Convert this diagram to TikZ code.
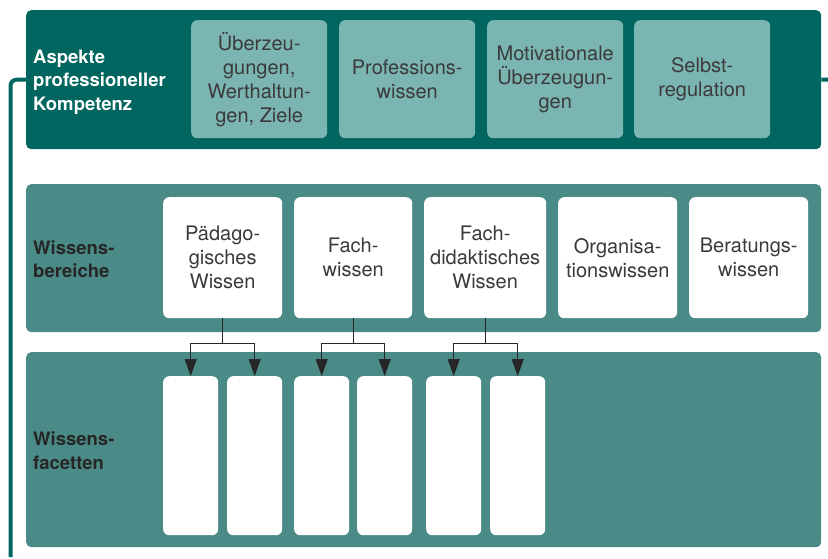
\documentclass[tikz,border=0pt]{standalone}
\usepackage{fontspec}
\setmainfont{TeX Gyre Heros}
\usepackage{xcolor}
\usepackage{tikz}
\usetikzlibrary{arrows.meta,positioning,calc}
\definecolor{dunkel}{HTML}{00665F}
\definecolor{hell}{HTML}{7BB5B2}
\definecolor{mittel}{HTML}{4A8A87}
\definecolor{schrift}{HTML}{3A3A3A}
\definecolor{linie}{HTML}{262626}

\begin{document}
\begin{tikzpicture}[x=1pt,y=-1pt,
    panel/.style={fill=#1,rounded corners=5pt,inner sep=0pt,anchor=north west,minimum width=795pt},
    kasten/.style={fill=#1,rounded corners=6pt,inner sep=0pt,anchor=north west,align=center,
      text=schrift,font=\fontsize{20}{24}\selectfont},
    titel/.style={anchor=west,align=left,inner sep=0pt,font=\fontsize{18.5}{23.5}\selectfont\bfseries},
    pfeil/.style={draw=linie,line width=1.1pt,-{Triangle[length=17pt,width=12pt]}},
    klammer/.style={draw=dunkel,line width=4pt,rounded corners=6pt}]
  \useasboundingbox (0,0) rectangle (828,559);
  % Panels
  \node[panel=dunkel,minimum height=139pt](aspekte) at (26,10){};
  \node[panel=mittel,minimum height=148pt](bereiche) at (26,184){};
  \node[panel=mittel,minimum height=195pt](facetten) at (26,352){};
  \node[titel,text=white](tA) at (33,82){Aspekte\\professioneller\\Kompetenz};
  \node[titel,text=black!85](tB) at (33,259){Wissens-\\bereiche};
  \node[titel,text=black!85](tC) at (33,450.5){Wissens-\\facetten};
  % Aspekte
  \foreach \x/\t/\n in {191/{Überzeu-\\gungen,\\Werthaltun-\\gen, Ziele}/a1,339/{Professions-\\wissen}/a2,
      487/{Motivationale\\Überzeugun-\\gen}/a3,634/{Selbst-\\regulation}/a4}{
    \node[kasten=hell,minimum width=136pt,minimum height=118pt](\n) at (\x,20){\t};}
  % Wissensbereiche
  \foreach \x/\w/\t/\n in {163/119/{Pädago-\\gisches\\Wissen}/w1,294/118/{Fach-\\wissen}/w2,
      424/122/{Fach-\\didaktisches\\Wissen}/w3,558/119/{Organisa-\\tionswissen}/w4,689/119/{Beratungs-\\wissen}/w5}{
    \node[kasten=white,minimum width=\w pt,minimum height=121pt](\n) at (\x,197){\t};}
  % Wissensfacetten
  \foreach \x/\n in {163/f1,227/f2,294/f3,357/f4,426/f5,490/f6}{
    \node[kasten=white,minimum width=55pt,minimum height=159pt](\n) at (\x,376){};}
  \foreach \w/\l/\r in {w1/f1/f2,w2/f3/f4,w3/f5/f6}{
    \draw[draw=linie,line width=1.1pt](\w.south) -- ++(0,25) coordinate(v\w);
    \draw[pfeil](v\w) -| (\l.north);
    \draw[pfeil](v\w) -| (\r.north);}
  % Klammer
  \coordinate(unten) at (10.5,557);
  \coordinate(rechts) at (828,79.5);
  \draw[klammer](aspekte.west) -| (unten);
  \draw[klammer](aspekte.east) -- (rechts);
\end{tikzpicture}
\end{document}
